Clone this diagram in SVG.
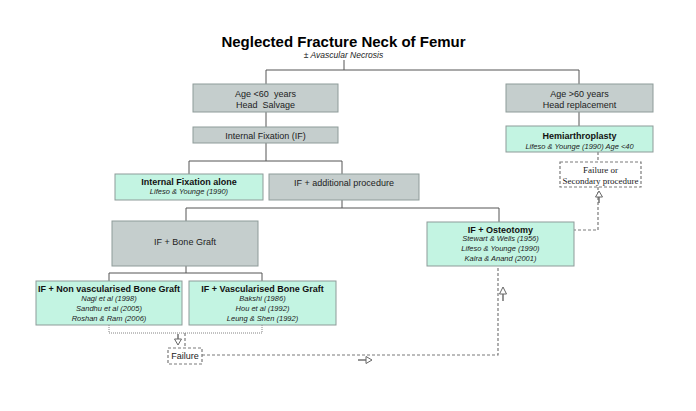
<svg xmlns="http://www.w3.org/2000/svg" width="696" height="411" viewBox="0 0 696 411">
<defs>
<style>
.gray{fill:#c5cecd;stroke:#8e9b99;stroke-width:1}
.mint{fill:#c3f4e2;stroke:#8e9b99;stroke-width:1}
.dbox{fill:#ffffff;stroke:#7a7a7a;stroke-width:1.2;stroke-dasharray:3 2}
.t{font-family:"Liberation Sans",Arial,sans-serif;font-size:9px;fill:#222;text-anchor:middle}
.b{font-family:"Liberation Sans",Arial,sans-serif;font-size:9px;font-weight:bold;fill:#111;text-anchor:middle}
.i{font-family:"Liberation Sans",Arial,sans-serif;font-size:7.5px;font-style:italic;fill:#222;text-anchor:middle}
.sub{font-family:"Liberation Sans",Arial,sans-serif;font-size:8.5px;font-style:italic;fill:#222;text-anchor:middle}
.s{font-family:"Liberation Serif","Times New Roman",serif;font-size:9px;fill:#222;text-anchor:middle}
.ln{fill:none;stroke:#555;stroke-width:1}
.dl{fill:none;stroke:#7a7a7a;stroke-width:1.2;stroke-dasharray:3 2}
.dt{fill:none;stroke:#666;stroke-width:0.8;stroke-dasharray:1 1}
.ar{fill:#fff;stroke:#666;stroke-width:1}
.as{fill:none;stroke:#666;stroke-width:1.4}
</style>
</defs>
<rect width="696" height="411" fill="#ffffff"/>
<g id="title">
<text x="343.5" y="47" font-family="'Liberation Sans',Arial,sans-serif" font-size="15" font-weight="bold" text-anchor="middle" fill="#000">Neglected Fracture Neck of Femur</text>
<text x="343.5" y="58" class="sub">± Avascular Necrosis</text>
</g>
<g id="connectors">
<path class="ln" d="M344 60V70M266 70H579M266 70V84M579 70V84M266 112V127M579 112V126M266 143V161M189 161H342M189 161V174M342 161V174M342 200V208M186 208H499M186 208V221M499 208V222M186 266V273M109 273H262M109 273V281M262 273V281"/>
<path class="dt" d="M109 325V333H262V325"/>
<path class="dl" d="M185 333V348M598 152V162M598 187V230H574M202 355H498V266"/>
<path class="as" d="M178 334V339"/>
<path class="ar" d="M174.5 339H181.5L178 345Z"/>
<path class="as" d="M358 360H366"/>
<path class="ar" d="M366 356.5V363.5L372 360Z"/>
<path class="as" d="M503 294V301"/>
<path class="ar" d="M499.5 294H506.5L503 287Z"/>
<path class="as" d="M599 197V203"/>
<path class="ar" d="M595.5 197H602.5L599 191Z"/>
</g>
<g id="n-age-lt60">
<rect class="gray" x="193" y="84" width="145" height="28"/>
<text class="t" x="265.5" y="97">Age &lt;60&#160; years</text>
<text class="t" x="265.5" y="108">Head&#160; Salvage</text>
</g>
<g id="n-if">
<rect class="gray" x="193" y="127" width="145" height="16"/>
<text class="t" x="265.5" y="138.5">Internal Fixation (IF)</text>
</g>
<g id="n-age-gt60">
<rect class="gray" x="506" y="84" width="147" height="28"/>
<text class="t" x="579.5" y="97">Age &gt;60 years</text>
<text class="t" x="579.5" y="108">Head replacement</text>
</g>
<g id="n-hemi">
<rect class="mint" x="506" y="126" width="147" height="26"/>
<text class="b" x="579.5" y="139">Hemiarthroplasty</text>
<text class="i" x="579.5" y="148.5">Lifeso &amp; Younge (1990) Age &lt;40</text>
</g>
<g id="n-failure-secondary">
<rect class="dbox" x="560" y="162" width="81" height="25"/>
<text class="s" x="600.5" y="172.5">Failure or</text>
<text class="s" x="600.5" y="183.5">Secondary procedure</text>
</g>
<g id="n-if-alone">
<rect class="mint" x="115" y="174" width="148" height="26"/>
<text class="b" x="189" y="185">Internal Fixation alone</text>
<text class="i" x="189" y="194">Lifeso &amp; Younge (1990)</text>
</g>
<g id="n-if-additional">
<rect class="gray" x="269" y="174" width="150" height="26"/>
<text class="t" x="344" y="185.5">IF + additional procedure</text>
</g>
<g id="n-bone-graft">
<rect class="gray" x="112" y="221" width="146" height="45"/>
<text class="t" x="185" y="244.5">IF + Bone Graft</text>
</g>
<g id="n-osteotomy">
<rect class="mint" x="427" y="222" width="147" height="44"/>
<text class="b" x="500.5" y="232.5">IF + Osteotomy</text>
<text class="i" x="500.5" y="241">Stewart &amp; Wells (1956)</text>
<text class="i" x="500.5" y="251">Lifeso &amp; Younge (1990)</text>
<text class="i" x="500.5" y="260.5">Kalra &amp; Anand (2001)</text>
</g>
<g id="n-nonvasc">
<rect class="mint" x="36" y="281" width="146" height="44"/>
<text class="b" x="109" y="292">IF + Non vascularised Bone Graft</text>
<text class="i" x="109" y="301">Nagi et al (1998)</text>
<text class="i" x="109" y="311">Sandhu et al (2005)</text>
<text class="i" x="109" y="320.5">Roshan &amp; Ram (2006)</text>
</g>
<g id="n-vasc">
<rect class="mint" x="189" y="281" width="147" height="44"/>
<text class="b" x="262.5" y="292">IF + Vascularised Bone Graft</text>
<text class="i" x="262.5" y="301">Bakshi (1986)</text>
<text class="i" x="262.5" y="311">Hou et al (1992)</text>
<text class="i" x="262.5" y="320.5">Leung &amp; Shen (1992)</text>
</g>
<g id="n-failure">
<rect class="dbox" x="168" y="348" width="34" height="16"/>
<text class="t" x="185" y="359">Failure</text>
</g>
</svg>
